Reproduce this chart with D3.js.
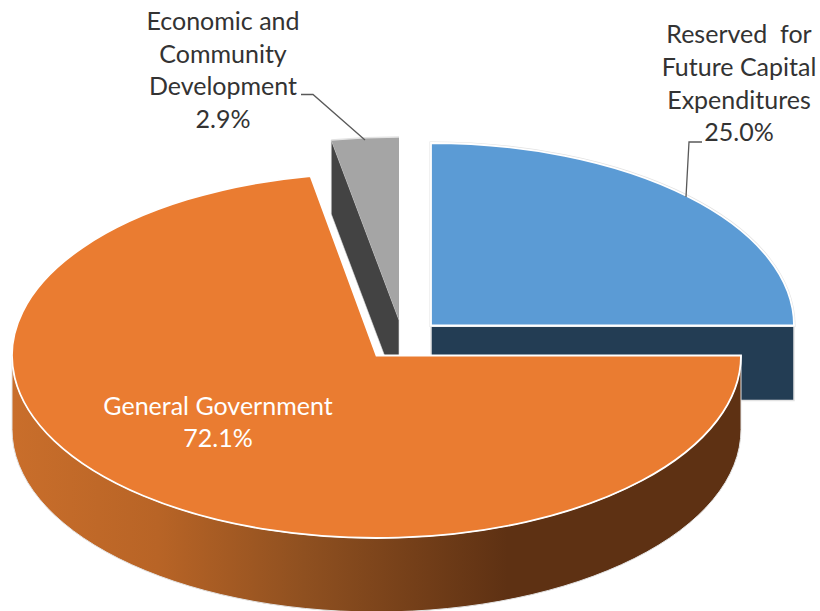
<!DOCTYPE html>
<html>
<head>
<meta charset="utf-8">
<script src="https://cdn.jsdelivr.net/npm/d3@7/dist/d3.min.js"></script>
<style>
  html, body { margin: 0; background: #fff; }
  svg { display: block; }
  text { font-family: Lato, "Open Sans", sans-serif; font-size: 25px; text-anchor: middle; }
</style>
</head>
<body>
<svg id="chart" width="820" height="611"></svg>
<script>
// Budget shares, clockwise from twelve o'clock
const categories = ["Reserved for Future Capital Expenditures", "General Government", "Economic and Community Development"];
const shares = [25.0, 72.1, 2.9];
const labelLines = [
  ["Reserved  for", "Future Capital", "Expenditures"],
  ["General Government"],
  ["Economic and", "Community", "Development"]
];
const topColors = ["#5B9BD5", "#EA7C31", "#A5A5A5"];
const wallColors = ["#233D54", "url(#orangeWall)", "#434343"];
const wallStops = ["#C96E2B", "#B86426", "#8F5020", "#5E3113", "#5E3113"];
const wallStopOffsets = [0, 0.2, 0.4, 0.68, 1];

// Where each exploded slice sits on the page, and its ellipse
const sliceFrames = [
  { cx: 431, cy: 325.5, rx: 363, ry: 182.5, depth: 75 },
  { cx: 376.5, cy: 355.5, rx: 364.5, ry: 182.5, depth: 74 },
  { cx: 399, cy: 320, rx: 374, ry: 183, depth: 74 }
];
const labelFrames = [
  { x: 739, y: 43, step: 32.8 },
  { x: 218, y: 415, step: 32 },
  { x: 223, y: 30, step: 32.6 }
];
const leaders = [
  [[702, 142], [689, 142], [686, 197]],
  null,
  [[301, 94.5], [313, 94.5], [365, 140]]
];

const svg = d3.select("#chart");

const gradient = svg.append("defs").append("linearGradient")
  .attr("id", "orangeWall")
  .attr("gradientUnits", "userSpaceOnUse")
  .attr("x1", sliceFrames[1].cx - sliceFrames[1].rx).attr("y1", 0)
  .attr("x2", sliceFrames[1].cx + sliceFrames[1].rx).attr("y2", 0);
gradient.selectAll("stop").data(wallStops).join("stop")
  .attr("offset", (d, i) => wallStopOffsets[i])
  .attr("stop-color", d => d);

const arcs = d3.pie().sort(null).value(d => d)(shares);

const onRim = (f, angle, drop = 0) => [
  f.cx + f.rx * Math.sin(angle),
  f.cy - f.ry * Math.cos(angle) + drop
];

// Flattened pie sector: centre, rim, back to the centre
function sectorPath(f, a0, a1) {
  const [x0, y0] = onRim(f, a0);
  const [x1, y1] = onRim(f, a1);
  const large = a1 - a0 > Math.PI ? 1 : 0;
  return `M${f.cx},${f.cy}L${x0},${y0}A${f.rx},${f.ry} 0 ${large} 1 ${x1},${y1}Z`;
}

// Just the rim of a sector
function rimPath(f, a0, a1) {
  const [x0, y0] = onRim(f, a0);
  const [x1, y1] = onRim(f, a1);
  return `M${x0},${y0}A${f.rx},${f.ry} 0 0 1 ${x1},${y1}`;
}

// Curved outer side of a slice, between two rim angles
function rimWallPath(f, a0, a1) {
  const [x0, y0] = onRim(f, a0);
  const [x1, y1] = onRim(f, a1);
  const [x2, y2] = onRim(f, a1, f.depth);
  const [x3, y3] = onRim(f, a0, f.depth);
  return `M${x0},${y0}A${f.rx},${f.ry} 0 0 1 ${x1},${y1}L${x2},${y2}A${f.rx},${f.ry} 0 0 0 ${x3},${y3}Z`;
}

// Flat cut face running from the centre out to one rim angle
function cutWallPath(f, a) {
  const [x, y] = onRim(f, a);
  return `M${x},${y}L${f.cx},${f.cy}L${f.cx},${f.cy + f.depth}L${x},${y + f.depth}Z`;
}

// Back slices first so the large slice overlaps them
const drawOrder = [2, 0, 1];
const wallEdge = "#e3e3e3";

drawOrder.forEach(i => {
  const a = arcs[i];
  const f = sliceFrames[i];
  const g = svg.append("g").attr("class", "slice");
  const top = sectorPath(f, a.startAngle, a.endAngle);

  if (i === 2) {
    // only the left cut face is seen; its top meets the sector without an edge
    g.append("path").attr("d", cutWallPath(f, a.startAngle))
      .attr("fill", wallColors[i]).attr("stroke", wallEdge).attr("stroke-width", 0.6);
    g.append("path").attr("d", top).attr("fill", topColors[i]);
    g.append("path").attr("d", rimPath(f, a.startAngle, a.endAngle))
      .attr("fill", "none").attr("stroke", wallEdge).attr("stroke-width", 1.4);
  } else if (i === 0) {
    // the square face of the 90 degree cut, seen head on
    g.append("path").attr("d", cutWallPath(f, a.endAngle))
      .attr("fill", wallColors[i]).attr("stroke", wallEdge).attr("stroke-width", 1.5);
    g.append("path").attr("d", top)
      .attr("fill", "none").attr("stroke", wallEdge).attr("stroke-width", 3);
    g.append("path").attr("d", top)
      .attr("fill", topColors[i]).attr("stroke", "#fff").attr("stroke-width", 1.8);
  } else {
    const from = Math.max(a.startAngle, Math.PI / 2);
    const to = Math.min(a.endAngle, 3 * Math.PI / 2);
    g.append("path").attr("d", rimWallPath(f, from, to))
      .attr("fill", wallColors[i]).attr("stroke", wallEdge).attr("stroke-width", 1);
    g.append("path").attr("d", top)
      .attr("fill", topColors[i]).attr("stroke", "#fff").attr("stroke-width", 1.8);
  }
});

// Leader lines
const line = d3.line();
leaders.filter(Boolean).forEach(pts => {
  svg.append("path").attr("d", line(pts))
    .attr("fill", "none").attr("stroke", "#595959").attr("stroke-width", 1.3);
});

// Labels: name lines, then the share as a percentage
const labels = svg.append("g").attr("class", "labels");
arcs.forEach((a, i) => {
  const f = labelFrames[i];
  const lines = [...labelLines[i], `${shares[i].toFixed(1)}%`];
  lines.forEach((txt, k) => {
    labels.append("text")
      .attr("x", f.x).attr("y", f.y + k * f.step)
      .attr("fill", i === 1 ? "#fff" : "#333")
      .style("white-space", "pre")
      .text(txt);
  });
});
</script>
</body>
</html>
